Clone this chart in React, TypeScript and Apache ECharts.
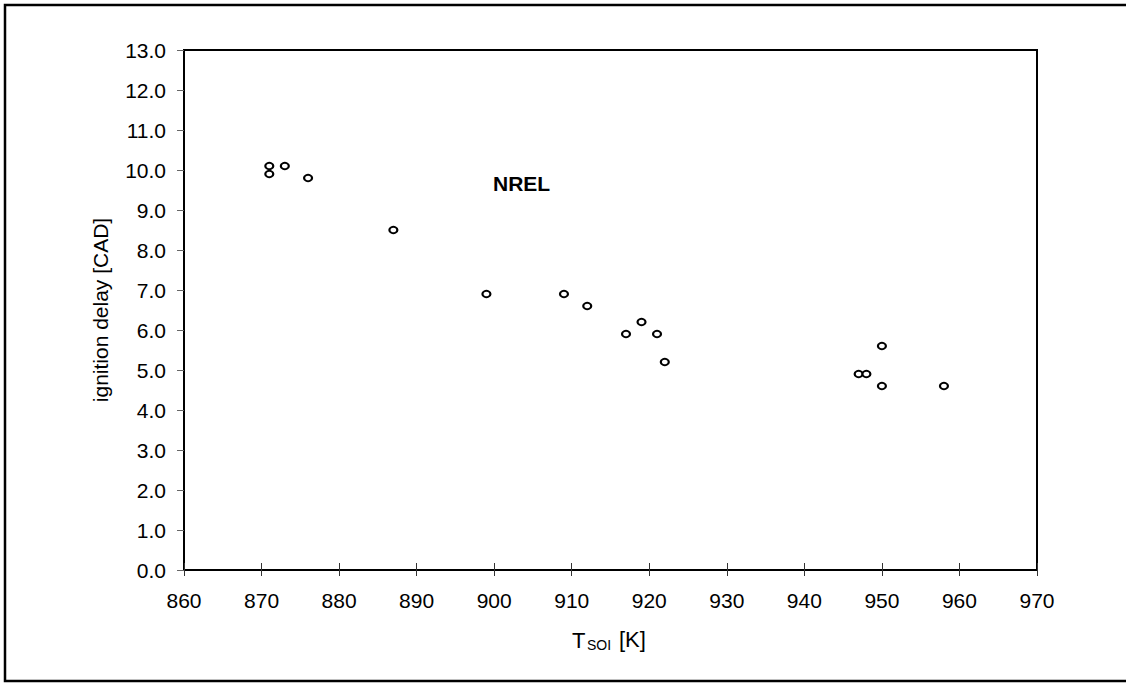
import React, { useEffect, useRef } from "react";
import * as echarts from "echarts";

const tempK = [871, 871, 873, 876, 887, 899, 909, 912, 917, 919, 921, 922, 947, 948, 950, 950, 958];
const delayCAD = [10.1, 9.9, 10.1, 9.8, 8.5, 6.9, 6.9, 6.6, 5.9, 6.2, 5.9, 5.2, 4.9, 4.9, 5.6, 4.6, 4.6];
const xTicks = { min: 860, max: 970, step: 10 };
const yTicks = { min: 0, max: 13, step: 1 };

const FONT = "'Liberation Sans', Arial, Helvetica, sans-serif";

export default function App() {
  const ref = useRef<HTMLDivElement>(null);
  useEffect(() => {
    document.body.style.margin = "0";
    const chart = echarts.init(ref.current!, null, { renderer: "svg" });
    const data = tempK.map((t, i) => [t, delayCAD[i]]);
    chart.setOption({
      animation: false,
      backgroundColor: "#fff",
      textStyle: { fontFamily: FONT },
      grid: {
        left: 184,
        top: 50,
        right: 89,
        bottom: 113,
        show: true,
        borderColor: "#000",
        borderWidth: 2,
        backgroundColor: "transparent",
      },
      xAxis: [
        {
          type: "value",
          min: xTicks.min,
          max: xTicks.max,
          interval: xTicks.step,
          axisLine: { show: true, onZero: false, lineStyle: { color: "#000", width: 2 } },
          axisTick: { show: true, inside: false, length: 6, lineStyle: { color: "#333", width: 1 } },
          axisLabel: { color: "#000", fontSize: 21, margin: 20, fontFamily: FONT },
          splitLine: { show: false },
        },
        {
          type: "value",
          position: "bottom",
          min: xTicks.min,
          max: xTicks.max,
          interval: xTicks.step,
          axisLine: { show: false },
          axisTick: { show: true, inside: true, length: 7, lineStyle: { color: "#333", width: 1 } },
          axisLabel: { show: false },
          splitLine: { show: false },
        },
      ],
      yAxis: {
        type: "value",
        min: yTicks.min,
        max: yTicks.max,
        interval: yTicks.step,
        axisLine: { show: true, onZero: false, lineStyle: { color: "#000", width: 2 } },
        axisTick: { show: true, inside: false, length: 7, lineStyle: { color: "#666", width: 1 } },
        axisLabel: {
          color: "#000",
          fontSize: 21,
          margin: 18,
          fontFamily: FONT,
          formatter: (v: number) => v.toFixed(1),
        },
        splitLine: { show: false },
      },
      series: [
        {
          type: "scatter",
          data,
          symbol: "circle",
          symbolSize: [8, 6.5],
          itemStyle: { color: "#fff", borderColor: "#000", borderWidth: 2, opacity: 1 },
        },
      ],
      graphic: [
        {
          type: "rect",
          shape: { x: 5, y: 5, width: 1140, height: 676 },
          style: { fill: "none", stroke: "#000", lineWidth: 2.5 },
          silent: true,
          z: 100,
        },
        {
          type: "text",
          x: 100,
          y: 310,
          rotation: Math.PI / 2,
          style: {
            text: "ignition delay [CAD]",
            font: `21px ${FONT}`,
            fill: "#000",
            align: "center",
            verticalAlign: "middle",
          },
        },
        {
          type: "text",
          x: 572,
          y: 640,
          style: { text: "T", font: `22px ${FONT}`, fill: "#000", align: "left", verticalAlign: "middle" },
        },
        {
          type: "text",
          x: 587,
          y: 645,
          style: { text: "SOI", font: `14px ${FONT}`, fill: "#000", align: "left", verticalAlign: "middle" },
        },
        {
          type: "text",
          x: 619,
          y: 639,
          style: { text: "[K]", font: `22px ${FONT}`, fill: "#000", align: "left", verticalAlign: "middle" },
        },
        {
          type: "text",
          x: 493,
          y: 183,
          style: {
            text: "NREL",
            font: `bold 21px ${FONT}`,
            fill: "#000",
            align: "left",
            verticalAlign: "middle",
          },
        },
      ],
    });
    return () => chart.dispose();
  }, []);
  return <div ref={ref} style={{ width: 1126, height: 683 }} />;
}
